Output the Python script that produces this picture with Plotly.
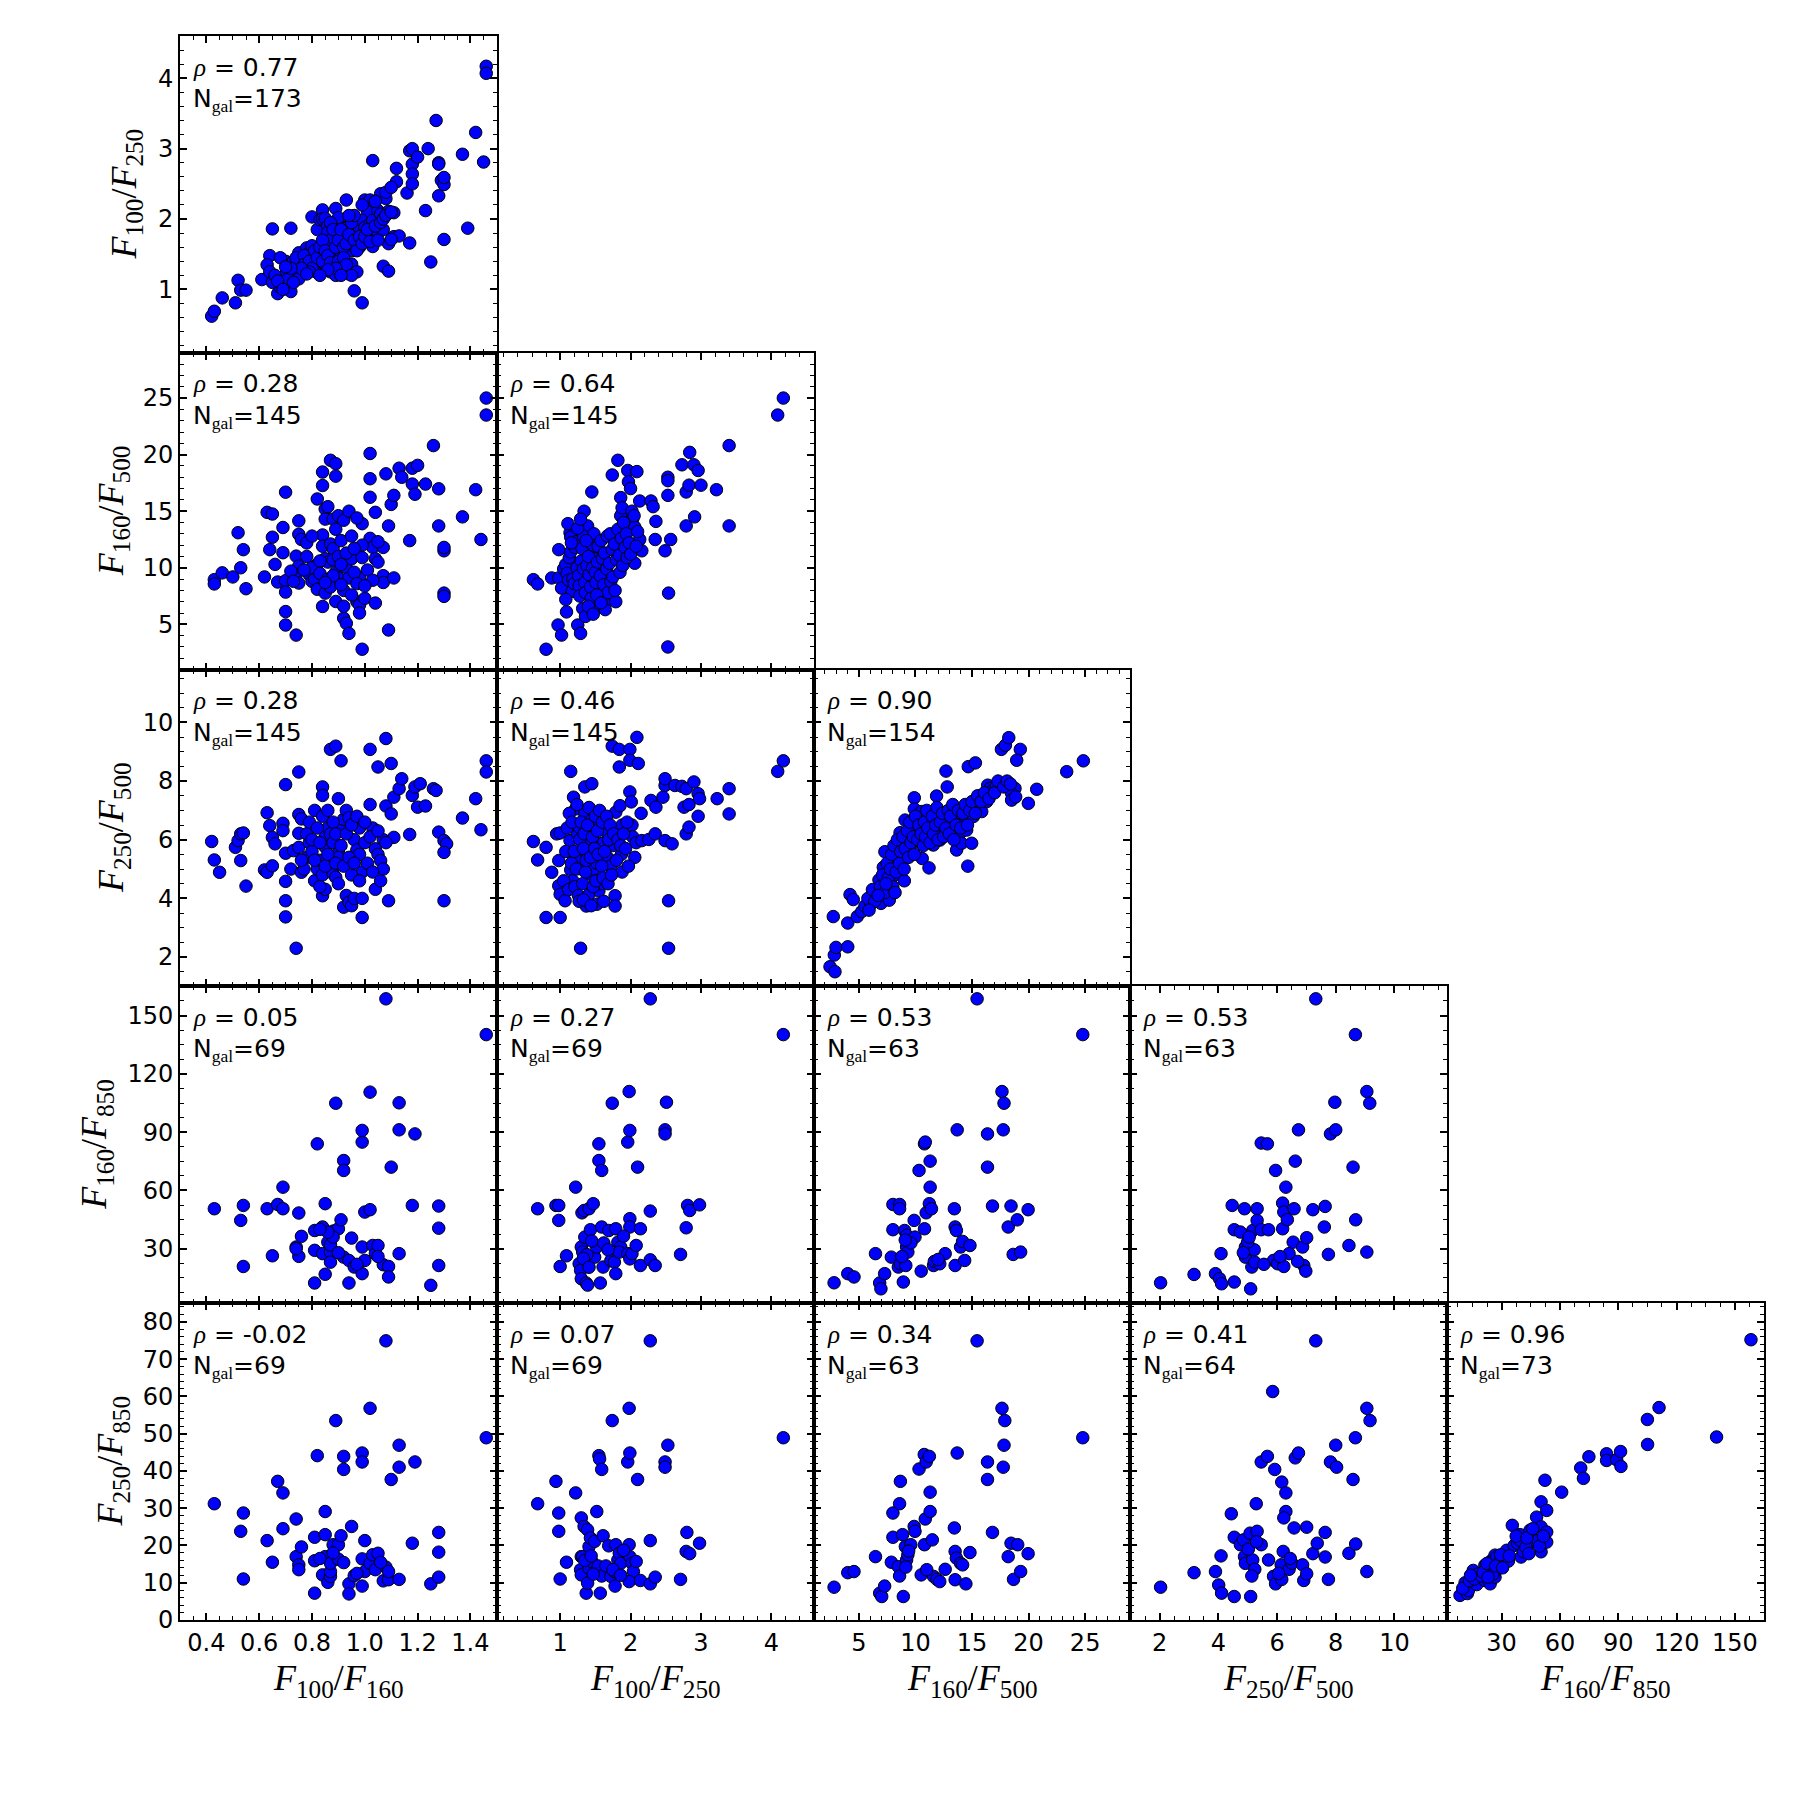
import plotly.graph_objects as go

# ---------------- data ----------------
var_labels = ["F100/F160", "F100/F250", "F160/F500", "F250/F500", "F160/F850", "F250/F850"]
var_sub = [("100", "160"), ("100", "250"), ("160", "500"), ("250", "500"), ("160", "850"), ("250", "850")]

rho_vals = {(1, 1): 0.77, (2, 1): 0.28, (2, 2): 0.64, (3, 1): 0.28, (3, 2): 0.46, (3, 3): 0.90,
            (4, 1): 0.05, (4, 2): 0.27, (4, 3): 0.53, (4, 4): 0.53,
            (5, 1): -0.02, (5, 2): 0.07, (5, 3): 0.34, (5, 4): 0.41, (5, 5): 0.96}
ngal_vals = {(1, 1): 173, (2, 1): 145, (2, 2): 145, (3, 1): 145, (3, 2): 145, (3, 3): 154,
             (4, 1): 69, (4, 2): 69, (4, 3): 63, (4, 4): 63,
             (5, 1): 69, (5, 2): 69, (5, 3): 63, (5, 4): 64, (5, 5): 73}

# F100/F250 vs F100/F160
p11 = [(0.42,0.62),(0.43,0.69),(0.46,0.88),(0.51,0.81),(0.52,1.13),(0.53,0.99),(0.55,0.99),(0.61,1.14),
(0.64,1.48),(0.65,1.86),(0.63,1.35),(0.64,1.25),(0.65,1.10),(0.67,0.94),(0.68,1.03),(0.69,1.05),
(0.70,1.40),(0.70,1.22),(0.72,0.97),(0.72,1.87),(0.73,1.40),(0.74,1.25),(0.75,1.15),(0.75,1.52),
(0.76,1.38),(0.78,1.59),(0.79,1.52),(0.80,2.03),(0.82,1.85),(0.83,1.99),(0.81,1.29),(0.82,1.24),
(0.83,1.31),(0.84,2.13),(0.84,2.00),(0.85,2.01),(0.86,1.90),(0.86,1.81),(0.85,1.35),(0.87,1.25),
(0.88,1.42),(0.88,1.54),(0.89,1.20),(0.87,1.63),(0.88,1.73),(0.89,2.15),(0.90,1.95),(0.90,2.02),
(0.91,1.51),(0.92,1.30),(0.93,2.27),(0.93,1.87),(0.94,1.22),(0.95,1.36),(0.95,1.55),(0.96,0.98),
(0.99,0.81),(0.97,1.80),(0.98,1.88),(0.98,1.60),(1.00,2.27),(1.01,2.11),(1.02,2.27),(0.99,1.98),
(1.00,1.88),(1.02,1.93),(1.03,1.98),(1.03,2.83),(1.03,1.61),(1.04,1.75),(1.05,2.12),(1.05,1.80),
(1.06,2.07),(1.07,1.85),(1.07,1.33),(1.09,1.26),(1.06,2.36),(1.08,2.29),(1.08,2.38),(1.09,2.11),
(1.11,2.09),(1.11,1.75),(1.09,1.65),(1.12,2.72),(1.12,2.53),(1.10,2.45),(1.13,1.76),(1.10,1.71),
(1.16,2.37),(1.17,1.66),(1.17,2.97),(1.18,3.00),(1.18,2.78),(1.18,2.64),(1.18,2.50),(1.20,2.88),
(1.23,2.12),(1.24,3.00),(1.25,1.39),(1.27,3.40),(1.28,2.80),(1.28,2.78),(1.28,2.33),(1.29,2.55),
(1.30,2.49),(1.30,2.59),(1.30,1.71),(1.37,2.92),(1.39,1.87),(1.42,3.23),(1.45,2.81),(1.46,4.17),
(1.46,4.07),
(0.66,1.20),(0.68,1.45),(0.71,1.15),(0.74,1.45),(0.77,1.48),(0.77,1.35),(0.79,1.40),(0.80,1.30),
(0.80,1.62),(0.81,1.55),(0.82,1.45),(0.83,1.60),(0.84,1.40),(0.84,1.70),(0.85,1.55),(0.86,1.48),
(0.87,1.38),(0.87,1.95),(0.88,1.85),(0.89,1.60),(0.90,1.40),(0.90,1.70),(0.91,1.85),(0.92,1.60),
(0.92,1.45),(0.93,1.65),(0.94,1.78),(0.95,1.95),(0.96,1.70),(0.96,2.05),(0.97,1.55),(0.98,1.75),
(0.99,1.65),(1.00,1.75),(1.01,1.85),(1.02,1.68),(1.04,1.90),(1.05,1.70),(1.06,1.95),(1.07,2.00),
(0.93,1.35),(0.89,1.30),(0.86,1.28),(0.79,1.25),(0.76,1.30),(0.72,1.30),(0.70,1.32),(0.67,1.12),
(0.69,1.00),(0.73,1.10),(0.97,1.25),(0.95,1.20),(0.91,1.20),(0.83,1.20),(0.78,1.22),(1.08,2.05),
(1.10,2.10),(1.04,2.25),(0.99,2.20),(0.94,2.05)]

# F160/F500 vs F100/F160
p21 = [(0.43,8.95),(0.43,8.57),(0.46,9.55),(0.50,9.19),(0.52,13.1),(0.53,10.0),(0.54,11.6),(0.55,8.15),
(0.62,9.19),(0.63,14.9),(0.65,14.75),(0.64,11.6),(0.65,12.7),(0.66,10.3),(0.67,8.74),(0.69,13.56),
(0.69,11.33),(0.70,16.68),(0.70,8.86),(0.70,7.85),(0.70,6.13),(0.70,4.94),(0.74,4.05),(0.75,14.15),
(0.75,12.96),(0.76,12.5),(0.74,11.03),(0.75,10.14),(0.74,9.4),(0.75,8.65),(0.72,9.7),(0.73,8.8),
(0.78,11.0),(0.79,9.4),(0.80,8.8),(0.82,10.3),(0.81,9.0),(0.82,8.1),(0.82,16.08),(0.84,18.46),
(0.84,17.27),(0.85,15.19),(0.85,14.3),(0.84,12.9),(0.84,11.9),(0.85,10.8),(0.86,10.5),(0.84,6.58),
(0.85,7.76),(0.87,19.5),(0.89,19.2),(0.89,18.1),(0.87,12.1),(0.88,11.7),(0.88,14.3),(0.89,13.4),
(0.88,10.7),(0.89,9.6),(0.90,9.1),(0.89,7.02),(0.92,8.0),(0.90,14.6),(0.92,14.2),(0.91,12.4),
(0.92,5.54),(0.93,10.0),(0.94,9.1),(0.95,10.8),(0.93,5.09),(0.94,4.2),(0.97,7.0),(0.98,6.7),
(0.98,6.0),(0.99,2.8),(0.98,9.1),(0.99,10.9),(0.99,13.9),(1.00,7.3),(1.02,20.1),(1.02,17.87),
(1.02,16.23),(1.02,12.6),(1.03,11.8),(1.04,6.88),(1.04,14.9),(1.04,10.8),(1.05,10.5),(1.07,9.3),
(1.07,8.7),(1.07,11.8),(1.08,18.3),(1.09,4.5),(1.09,13.7),(1.10,15.6),(1.11,16.4),(1.11,9.1),
(1.13,18.8),(1.14,18.0),(1.17,12.4),(1.18,18.8),(1.18,17.4),(1.19,16.5),(1.20,19.05),(1.23,17.4),
(1.26,20.8),(1.28,16.98),(1.28,13.7),(1.30,11.5),(1.30,11.8),(1.30,7.76),(1.30,7.47),(1.37,14.5),
(1.42,16.9),(1.44,12.5),(1.46,25.0),(1.46,23.5),
(0.78,12.2),(0.80,10.0),(0.83,9.5),(0.86,9.0),(0.87,8.3),(0.90,11.0),(0.91,10.3),(0.93,11.3),
(0.95,12.8),(0.96,9.6),(0.97,8.6),(0.99,12.0),(1.01,9.8),(1.03,8.9),(0.92,6.6),(0.95,7.6),
(0.80,12.8),(0.77,9.8),(0.86,15.4),(0.94,15.0),(0.97,14.4),(0.83,10.6),(0.88,9.3),(0.91,8.5),
(0.85,8.7),(0.96,11.7),(1.00,8.4),(1.05,12.3)]

# F160/F500 vs F100/F250
p22 = [(0.62,8.95),(0.68,8.57),(0.80,2.8),(0.88,9.1),(0.98,11.6),(0.98,9.1),(1.02,8.2),(0.97,4.94),
(1.02,4.05),(1.09,6.1),(1.14,13.1),(1.15,12.7),(1.17,7.9),(1.19,10.4),(1.22,9.7),(1.25,4.94),
(1.29,4.2),(1.32,6.4),(1.36,5.7),(1.34,15.0),(1.39,13.7),(1.45,16.7),(1.42,12.1),(1.45,11.3),
(1.49,10.8),(1.52,9.1),(1.55,8.2),(1.60,7.2),(1.65,7.0),(1.74,18.2),(1.79,7.0),(1.82,19.5),
(1.86,16.2),(1.86,14.6),(1.88,15.3),(1.96,18.6),(1.97,17.6),(2.09,18.5),(2.00,17.0),(2.03,14.3),
(2.06,13.6),(2.13,15.9),(2.13,12.5),(2.16,11.5),(2.06,10.4),(2.29,15.9),(2.32,15.4),(2.36,14.1),
(2.35,12.5),(2.49,11.5),(2.53,16.4),(2.53,18.0),(2.53,17.7),(2.54,7.76),(2.53,3.0),(2.57,12.5),
(2.73,19.1),(2.79,16.7),(2.83,17.3),(2.84,20.2),(2.90,19.1),(2.96,18.6),(3.0,17.3),(2.79,13.7),
(2.91,14.5),(3.22,16.9),(3.40,20.8),(3.40,13.7),(4.09,23.5),(4.17,25.0),
(1.05,9.9),(1.08,10.3),(1.10,9.5),(1.12,8.9),(1.13,10.9),(1.15,11.4),(1.18,9.0),(1.20,8.6),
(1.21,11.8),(1.23,12.3),(1.24,10.0),(1.26,9.3),(1.27,8.4),(1.28,7.5),(1.30,10.6),(1.31,11.7),
(1.33,12.8),(1.33,9.9),(1.35,8.7),(1.36,7.8),(1.38,10.2),(1.40,11.0),(1.41,9.4),(1.43,8.3),
(1.44,7.3),(1.46,10.0),(1.47,12.0),(1.48,13.0),(1.50,9.6),(1.51,8.7),(1.53,10.5),(1.54,11.9),
(1.56,6.6),(1.57,9.3),(1.58,12.4),(1.60,10.8),(1.62,8.5),(1.63,11.3),(1.64,6.3),(1.66,9.9),
(1.67,12.8),(1.68,7.8),(1.70,10.4),(1.71,13.0),(1.72,8.8),(1.74,11.6),(1.75,9.2),(1.77,12.1),
(1.78,8.0),(1.80,10.7),(1.82,13.4),(1.84,11.1),(1.85,9.6),(1.87,12.6),(1.89,10.2),(1.90,14.0),
(1.92,11.8),(1.94,13.0),(1.95,10.9),(1.98,12.2),(2.00,11.2),(2.02,15.0),(2.05,14.6),(2.08,11.9),
(2.10,13.2),(1.11,13.9),(1.16,12.2),(1.25,13.5),(1.29,14.3),(1.37,12.4),(1.40,6.6),(1.47,5.9),
(1.52,7.6),(1.58,6.9),(1.08,7.2)]

# F250/F500 vs F100/F160
p31 = [(0.42,5.94),(0.43,5.31),(0.45,4.89),(0.51,5.74),(0.52,5.97),(0.53,6.2),(0.54,6.23),(0.53,5.29),
(0.55,4.42),(0.62,4.97),(0.63,4.89),(0.65,5.11),(0.63,6.92),(0.64,6.48),(0.65,6.08),(0.66,5.86),
(0.69,6.56),(0.69,6.31),(0.70,7.88),(0.70,5.54),(0.70,4.58),(0.70,3.92),(0.70,3.37),(0.72,5.0),
(0.73,5.63),(0.74,2.3),(0.75,6.86),(0.75,8.31),(0.76,6.71),(0.75,6.22),(0.75,5.74),(0.76,4.89),
(0.77,5.0),(0.78,5.4),(0.79,5.9),(0.81,4.6),(0.81,7.0),(0.82,5.0),(0.83,5.3),(0.84,4.8),
(0.84,7.8),(0.84,7.51),(0.84,4.09),(0.85,4.31),(0.85,6.1),(0.85,5.75),(0.86,6.4),(0.87,9.08),
(0.89,9.19),(0.91,8.69),(0.90,7.4),(0.87,5.29),(0.88,4.84),(0.89,4.72),(0.90,5.57),(0.90,5.4),
(0.91,6.5),(0.90,4.5),(0.92,3.7),(0.93,4.1),(0.94,3.87),(0.95,3.75),(0.96,4.0),(0.99,4.0),
(0.99,3.35),(0.92,6.7),(0.93,7.0),(0.94,6.75),(0.96,6.0),(0.97,5.65),(0.98,5.5),(0.98,6.4),
(0.99,4.9),(1.02,9.08),(1.05,8.48),(1.02,7.2),(1.03,6.4),(1.04,5.69),(1.04,4.31),(1.05,5.5),
(1.06,5.29),(1.07,5.0),(1.07,6.0),(1.08,7.15),(1.08,9.45),(1.09,3.92),(1.10,8.6),(1.10,6.88),
(1.11,6.08),(1.11,7.45),(1.13,7.74),(1.14,8.08),(1.17,6.18),(1.18,7.51),(1.19,7.8),(1.20,7.11),
(1.21,7.91),(1.23,7.15),(1.26,7.74),(1.27,7.68),(1.28,6.26),(1.30,5.97),(1.31,5.86),(1.30,5.57),
(1.30,3.92),(1.37,6.74),(1.42,7.4),(1.44,6.34),(1.46,8.69),(1.46,8.31),
(0.76,5.3),(0.78,6.2),(0.79,6.6),(0.80,5.6),(0.80,6.0),(0.81,5.3),(0.82,6.4),(0.83,5.9),
(0.84,6.8),(0.85,5.1),(0.86,5.5),(0.86,7.0),(0.87,6.2),(0.88,5.9),(0.88,6.6),(0.89,5.2),
(0.89,6.2),(0.91,5.8),(0.92,5.1),(0.93,6.2),(0.94,5.4),(0.95,6.5),(0.95,4.8),(0.96,5.2),
(0.97,6.8),(0.98,4.6),(1.00,5.9),(1.00,6.6),(1.01,5.2),(1.02,6.1),(1.03,4.9),(1.05,6.3),
(1.06,4.6),(1.08,5.9),(0.83,4.4)]

# F250/F500 vs F100/F250
p32 = [(0.62,5.94),(0.68,5.31),(0.80,3.35),(0.80,5.74),(0.88,4.89),(0.95,6.2),(1.00,6.23),(0.98,5.29),
(0.98,4.43),(1.00,4.14),(1.00,3.35),(1.07,3.92),(1.14,5.97),(1.15,5.57),(1.15,8.33),(1.15,4.97),
(1.18,4.6),(1.19,7.45),(1.22,7.05),(1.22,6.48),(1.25,6.2),(1.27,6.43),(1.29,2.3),(1.29,5.29),
(1.31,5.0),(1.35,7.8),(1.45,7.91),(1.35,6.88),(1.38,5.5),(1.42,5.97),(1.44,6.66),(1.37,3.74),
(1.45,4.8),(1.48,5.0),(1.52,5.2),(1.52,3.8),(1.55,4.25),(1.57,4.5),(1.58,5.86),(1.62,5.9),
(1.65,6.3),(1.67,5.4),(1.72,5.1),(1.75,5.8),(1.74,9.19),(1.78,4.09),(1.78,3.74),(1.79,6.94),
(1.84,9.08),(1.84,8.48),(1.85,7.16),(1.88,6.5),(1.88,4.9),(1.87,5.5),(1.99,9.08),(1.99,8.71),
(2.09,9.49),(2.11,8.6),(2.02,6.5),(2.03,6.1),(1.99,7.63),(2.01,7.29),(2.06,5.4),(2.08,5.9),
(2.15,6.9),(2.16,5.97),(2.29,7.34),(2.26,6.01),(2.36,7.11),(2.35,6.2),(2.46,7.45),(2.49,7.85),
(2.49,8.08),(2.49,5.97),(2.59,5.86),(2.54,3.92),(2.54,2.3),(2.63,7.85),(2.73,7.82),(2.79,7.74),
(2.76,7.11),(2.83,7.2),(2.79,6.2),(2.83,6.43),(2.90,7.97),(2.96,7.57),(2.98,7.4),(2.96,6.8),
(3.23,7.4),(3.40,7.74),(3.40,6.88),(4.09,8.33),(4.17,8.69),
(1.05,4.6),(1.08,5.6),(1.10,6.4),(1.12,4.3),(1.13,6.9),(1.16,5.2),(1.17,6.6),(1.20,5.6),
(1.21,4.4),(1.23,5.0),(1.24,7.2),(1.26,4.1),(1.28,6.0),(1.30,6.6),(1.32,4.5),(1.33,5.7),
(1.34,6.2),(1.36,4.9),(1.37,5.3),(1.39,6.5),(1.40,4.1),(1.41,7.1),(1.43,5.4),(1.46,6.1),
(1.47,4.4),(1.49,5.7),(1.50,6.8),(1.51,4.6),(1.53,6.3),(1.54,5.5),(1.56,7.0),(1.59,5.1),
(1.60,6.6),(1.61,4.7),(1.63,5.6),(1.66,6.8),(1.68,4.5),(1.69,6.0),(1.71,6.5),(1.73,4.8),
(1.76,6.2),(1.80,5.3),(1.82,6.0),(1.86,5.8),(1.90,6.2),(1.93,5.7),(1.95,6.6),(1.97,5.1),
(1.27,3.9),(1.33,3.95),(1.44,3.75),(1.62,3.9)]

# F250/F500 vs F160/F500
p33 = [(2.45,1.67),(2.89,1.5),(2.83,2.07),(2.98,2.33),(2.74,3.38),(4.02,2.35),(4.02,3.16),(4.22,4.13),
(4.51,3.96),(4.86,3.38),(5.25,3.55),(5.54,3.74),(6.07,3.81),(6.57,4.23),(6.78,4.63),(6.96,3.83),
(7.3,5.59),(7.16,5.06),(7.69,3.94),(7.75,4.6),(8.05,4.77),(8.2,5.28),(8.5,5.56),(8.64,6.24),
(8.78,5.85),(9.02,5.34),(8.73,4.99),(9.02,4.6),(9.08,6.67),(9.23,5.99),(9.52,5.77),(9.67,6.33),
(9.9,7.43),(9.9,7.05),(10.55,6.96),(10.1,6.4),(10.4,5.92),(10.6,5.36),(11.3,6.55),(11.4,6.27),
(11.58,5.82),(11.2,5.04),(11.87,7.49),(12.17,5.99),(12.32,6.27),(12.61,6.9),(12.7,8.34),(12.81,7.8),
(13.2,6.67),(13.35,6.39),(13.5,6.9),(13.64,5.65),(13.79,5.99),(13.94,6.22),(14.08,5.88),(14.38,6.67),
(14.53,6.33),(14.63,5.1),(14.67,8.49),(14.97,5.88),(15.12,6.79),(15.56,7.24),(15.86,6.96),(16.3,7.3),
(15.3,8.62),(16.39,7.86),(16.6,7.75),(16.85,7.69),(17.15,7.8),(17.56,7.92),(17.6,9.08),(17.95,9.22),
(18.25,9.48),(19.27,9.08),(18.8,7.75),(18.95,8.71),(18.5,7.58),(18.5,7.35),(18.86,7.46),(19.98,7.24),
(20.72,7.72),(23.37,8.32),(24.84,8.69),
(5.8,4.0),(6.2,4.3),(6.4,3.9),(6.9,4.4),(7.1,4.8),(7.3,4.2),(7.5,5.2),(7.6,4.7),(7.8,5.0),(7.9,5.5),
(8.0,4.4),(8.1,5.8),(8.3,4.9),(8.4,6.0),(8.6,5.2),(8.7,5.6),(8.9,6.1),(9.0,5.0),(9.1,5.7),(9.3,6.3),
(9.4,5.4),(9.5,6.6),(9.6,5.9),(9.8,6.1),(9.9,5.5),(10.0,6.8),(10.2,6.0),(10.3,6.5),(10.5,6.2),
(10.7,5.8),(10.8,6.6),(10.9,6.1),(11.0,7.0),(11.1,6.4),(11.3,5.9),(11.5,6.8),(11.6,6.2),(11.8,6.5),
(11.9,7.1),(12.0,6.0),(12.2,6.6),(12.4,6.9),(12.5,6.1),(12.7,6.4),(12.9,7.0),(13.0,6.2),(13.1,6.8),
(13.3,7.2),(13.4,6.0),(13.6,6.5),(13.8,7.0),(14.0,6.4),(14.2,6.9),(14.4,7.2),(14.6,6.5),(14.8,7.0),
(15.0,7.3),(15.3,6.9),(15.5,7.5),(15.8,7.3),(16.1,7.6),(16.5,7.4),(17.0,7.6),(17.3,8.0),(17.8,7.8),
(18.1,8.0),(18.4,7.9),(8.2,4.2),(7.4,4.5),(6.7,4.1),(5.9,3.6)]

# F160/F850 vs F100/F160
p41 = [(0.43,50.6),(0.53,44.6),(0.54,20.9),(0.54,52.3),(0.63,50.6),(0.65,26.4),(0.67,52.8),(0.69,61.7),
(0.69,50.6),(0.74,30.9),(0.75,26.1),(0.75,48.4),(0.76,36.4),(0.81,12.4),(0.81,39.4),(0.81,29.2),
(0.82,84.0),(0.84,41.2),(0.84,27.5),(0.85,16.9),(0.85,53.2),(0.86,33.4),(0.87,28.3),(0.87,23.1),
(0.88,39.1),(0.90,40.3),(0.91,44.9),(0.89,104.9),(0.92,75.4),(0.92,70.3),(0.92,25.7),(0.94,24.0),
(0.94,12.4),(0.95,35.5),(0.96,20.6),(0.99,17.2),(0.99,84.9),(0.99,90.9),(0.99,30.9),(1.00,24.0),
(1.00,48.9),(1.02,50.1),(1.02,110.6),(1.03,31.7),(1.04,27.5),(1.05,31.7),(1.07,21.8),(1.09,20.9),
(1.08,158.6),(1.09,15.5),(1.10,72.0),(1.13,27.5),(1.13,105.1),(1.13,91.2),(1.18,52.3),(1.19,89.1),
(1.25,11.2),(1.28,52.0),(1.28,40.6),(1.28,21.4),(1.46,140.2),
(0.87,32.0),(0.88,36.0),(0.86,38.5),(0.74,30.0),(0.90,28.0),(0.97,22.0),(1.05,26.0),(0.83,40.0)]

# F160/F850 vs F100/F250
p42 = [(0.68,50.6),(0.94,52.3),(0.98,52.3),(0.98,44.6),(1.00,20.9),(1.09,26.4),(1.22,61.7),(1.27,22.3),
(1.29,18.9),(1.30,14.6),(1.30,30.9),(1.32,28.3),(1.31,48.5),(1.34,49.7),(1.35,36.0),(1.37,12.4),
(1.39,11.3),(1.41,50.6),(1.47,53.2),(1.43,39.8),(1.49,25.7),(1.52,30.9),(1.55,84.0),(1.55,75.4),
(1.59,70.3),(1.59,41.2),(1.61,20.6),(1.57,12.4),(1.69,39.4),(1.72,24.0),(1.77,23.1),(1.79,17.2),
(1.74,104.9),(1.79,40.3),(1.82,33.4),(1.86,30.9),(1.84,28.3),(1.96,84.9),(1.98,110.9),(1.99,90.9),
(1.96,27.5),(1.99,24.8),(2.02,27.5),(1.99,45.5),(1.99,41.2),(2.08,31.7),(2.10,72.0),(2.14,21.4),
(2.14,40.3),(2.28,158.6),(2.28,49.4),(2.28,24.3),(2.35,21.4),(2.51,105.4),(2.49,91.2),(2.49,89.1),
(2.71,27.1),(2.79,40.8),(2.81,52.3),(2.84,49.7),(2.98,52.6),(4.17,140.2),
(1.45,34.0),(1.38,27.0),(1.62,33.0),(1.33,25.0),(1.68,29.5),(1.41,20.5),(1.90,36.5)]

# F160/F850 vs F160/F500
p43 = [(2.81,12.5),(4.02,17.2),(4.57,15.5),(6.47,27.5),(6.84,12.4),(6.95,9.4),(7.28,17.2),(7.87,25.7),
(8.01,52.8),(8.60,52.8),(8.60,50.6),(8.01,39.8),(8.49,20.6),(8.67,22.3),(8.93,12.9),(9.04,39.4),
(9.22,36.9),(9.22,30.9),(9.33,28.3),(9.15,21.4),(9.89,44.6),(9.96,36.0),(10.32,70.3),(10.51,18.5),
(10.8,84.0),(10.87,84.9),(10.8,40.3),(10.95,48.5),(11.23,53.2),(11.42,50.6),(11.3,75.1),(11.3,61.7),
(11.6,21.4),(11.67,23.5),(12.15,22.3),(12.63,27.5),(13.44,50.6),(13.51,41.2),(13.62,39.4),(13.51,21.4),
(13.69,91.2),(13.99,30.9),(14.17,33.8),(14.35,24.0),(14.82,31.7),(15.45,158.6),(16.37,89.1),(16.37,72.0),
(16.81,52.0),(17.65,110.9),(17.83,104.9),(17.76,91.2),(18.2,41.2),(18.45,52.0),(18.64,27.1),(19.3,28.3),
(19.0,44.9),(19.96,50.1),(24.79,140.2),(9.6,33.0),(12.0,24.5),(9.1,34.5),(8.8,26.0)]

# F160/F850 vs F250/F500
p44 = [(2.03,12.5),(3.17,16.8),(3.9,17.2),(4.04,14.6),(4.11,12.0),(4.09,27.5),(4.47,52.3),(4.54,12.9),
(4.54,39.8),(4.75,38.6),(4.89,50.6),(5.32,50.6),(4.92,30.9),(4.92,25.7),(5.10,9.4),(5.14,20.6),
(5.24,23.1),(5.22,29.5),(5.17,39.4),(5.32,44.6),(5.46,39.8),(5.71,39.8),(5.46,84.4),(5.67,84.0),
(5.88,24.0),(6.02,22.3),(6.23,20.9),(5.95,70.3),(6.19,53.5),(6.23,48.9),(6.3,61.7),(6.19,40.3),
(6.41,27.5),(6.55,33.4),(6.58,50.6),(6.62,75.1),(6.73,91.2),(6.87,30.9),(6.91,21.4),(6.98,18.5),
(7.01,35.7),(7.22,50.1),(7.32,158.6),(7.64,51.8),(7.61,41.2),(7.75,27.1),(7.82,89.1),(8.0,91.2),
(7.97,105.4),(8.45,31.7),(8.59,72.0),(8.68,44.9),(8.67,140.2),(9.06,110.9),(9.16,104.9),(9.06,28.3),
(5.0,33.5),(5.05,36.0),(6.10,26.0),(4.85,28.0),(6.35,45.0),(5.55,22.0),(6.70,23.5)]

# F250/F850 vs F100/F160
p51 = [(0.43,31.2),(0.53,23.8),(0.54,28.7),(0.54,11.0),(0.63,21.3),(0.65,15.5),(0.67,37.2),(0.69,34.1),
(0.69,24.5),(0.74,27.1),(0.74,17.0),(0.75,14.8),(0.75,13.5),(0.76,19.6),(0.81,7.2),(0.81,22.2),
(0.81,15.9),(0.82,44.1),(0.84,12.1),(0.85,22.9),(0.85,17.0),(0.85,29.1),(0.86,10.1),(0.87,11.7),
(0.87,13.0),(0.87,15.2),(0.88,20.2),(0.90,20.2),(0.91,22.6),(0.89,53.5),(0.90,16.3),(0.92,15.4),
(0.92,43.9),(0.92,40.4),(0.94,9.7),(0.94,7.0),(0.95,25.1),(0.96,11.9),(0.99,9.1),(0.99,44.8),
(0.99,42.4),(0.99,16.4),(1.00,13.0),(1.00,21.3),(1.02,56.8),(1.02,15.2),(1.03,17.5),(1.04,13.5),
(1.05,17.9),(1.07,10.5),(1.09,10.8),(1.08,74.9),(1.08,14.2),(1.09,13.0),(1.10,37.7),(1.13,10.9),
(1.13,46.9),(1.13,41.0),(1.18,20.6),(1.19,42.4),(1.25,9.7),(1.28,23.5),(1.28,18.2),(1.28,11.5),
(1.46,48.9),(0.88,18.0),(0.97,12.5),(0.83,16.5),(1.06,15.5)]

# F250/F850 vs F100/F250
p52 = [(0.68,31.2),(0.94,37.2),(0.98,28.7),(0.98,23.8),(1.00,11.0),(1.09,15.5),(1.22,34.1),(1.30,27.4),
(1.34,25.1),(1.39,24.2),(1.30,17.0),(1.32,17.0),(1.29,13.5),(1.30,12.1),(1.37,7.2),(1.39,9.9),
(1.41,13.9),(1.45,15.7),(1.41,19.7),(1.43,22.0),(1.49,21.1),(1.52,29.1),(1.54,14.5),(1.55,44.1),
(1.56,43.2),(1.59,40.4),(1.59,11.8),(1.57,7.2),(1.61,22.6),(1.69,19.9),(1.72,11.7),(1.77,13.0),
(1.74,53.5),(1.78,9.1),(1.79,20.2),(1.82,16.1),(1.84,17.9),(1.86,15.2),(1.96,42.4),(1.99,44.8),
(1.98,56.8),(1.98,20.2),(1.99,17.0),(2.02,15.2),(2.04,13.0),(1.98,10.3),(2.08,15.7),(2.10,37.7),
(2.14,10.6),(2.28,74.9),(2.28,21.3),(2.28,9.7),(2.35,11.5),(2.49,42.4),(2.49,41.0),(2.53,46.9),
(2.71,10.9),(2.80,23.5),(2.79,18.4),(2.84,17.8),(2.98,20.6),(4.17,48.9),
(1.35,16.0),(1.47,12.3),(1.65,14.5),(1.90,18.7),(1.75,13.5),(1.44,17.2),(1.86,12.0)]

# F250/F850 vs F160/F500
p53 = [(2.81,8.8),(4.02,12.7),(4.57,13.0),(6.47,17.0),(6.84,7.2),(7.02,6.3),(7.28,9.1),(7.87,15.5),
(8.01,28.7),(8.01,22.2),(8.6,31.2),(8.67,37.2),(8.49,14.3),(8.60,11.8),(8.93,6.3),(8.86,22.9),
(9.11,19.7),(9.22,16.1),(9.33,17.5),(9.15,14.2),(9.59,20.2),(9.89,25.1),(9.96,23.8),(10.32,40.5),
(10.51,12.1),(10.78,44.4),(10.95,42.4),(10.87,27.1),(10.8,20.2),(11.3,34.3),(11.23,43.9),(11.3,29.1),
(11.49,21.5),(11.6,11.7),(11.9,10.9),(12.15,10.3),(12.63,13.6),(13.44,24.7),(13.51,18.4),(13.62,16.6),
(13.51,10.8),(13.69,44.8),(13.99,15.2),(14.17,14.8),(14.46,9.7),(14.82,18.1),(15.45,74.9),(16.37,42.4),
(16.37,37.7),(16.81,23.5),(17.65,56.8),(17.9,53.5),(17.83,46.9),(17.76,41.0),(18.2,17.0),(18.45,20.6),
(18.67,10.9),(19.3,13.0),(19.04,20.2),(19.96,17.8),(24.79,48.9),(9.4,18.5),(11.0,13.5)]

# F250/F850 vs F250/F500
p54 = [(2.03,8.8),(3.17,12.7),(3.9,13.0),(4.01,9.4),(4.11,7.2),(4.09,17.2),(4.44,28.5),(4.54,6.3),
(4.54,22.2),(4.75,20.2),(4.86,21.5),(4.89,17.0),(4.92,15.2),(5.17,16.1),(5.24,13.6),(5.1,6.3),
(5.14,11.8),(5.29,31.2),(5.08,23.3),(5.32,23.8),(5.46,20.2),(5.46,42.4),(5.67,43.9),(5.71,16.1),
(5.85,61.3),(5.92,40.4),(5.88,11.7),(5.95,9.7),(6.16,10.9),(6.16,37.0),(6.21,18.4),(6.14,14.8),
(6.41,13.6),(6.51,15.2),(6.3,34.1),(6.3,29.1),(6.23,27.4),(6.58,24.7),(6.62,43.5),(6.73,44.8),
(6.87,14.8),(6.91,10.6),(7.01,12.4),(7.01,24.9),(7.22,17.8),(7.32,74.9),(7.37,20.6),(7.64,16.9),
(7.64,23.5),(7.75,10.9),(7.82,42.4),(8.0,46.9),(8.03,41.0),(8.45,17.9),(8.59,37.7),(8.68,20.4),
(8.67,48.9),(9.06,56.8),(9.17,53.5),(9.06,13.0),(5.02,19.0),(5.30,21.0),(6.05,12.5),(6.45,16.5)]

# F250/F850 vs F160/F850
p55 = [(8.6,6.6),(11.2,10.0),(12.4,7.1),(12.9,7.9),(15.4,13.3),(17.2,9.5),(18.0,12.4),(21.4,14.7),
(21.4,10.6),(23.2,13.3),(24.1,9.7),(24.9,16.0),(26.6,17.4),(27.5,16.9),(26.6,11.5),(28.3,13.8),
(29.2,15.6),(31.7,15.8),(32.6,18.7),(33.5,15.8),(35.5,25.4),(36.5,20.0),(38.3,20.5),(39.5,22.9),
(40.0,16.9),(41.2,18.3),(39.5,21.4),(44.6,24.1),(45.5,20.9),(47.2,21.4),(48.0,27.6),(48.9,21.4),
(50.3,31.7),(50.3,25.0),(50.3,18.3),(53.2,20.9),(53.2,23.6),(53.2,29.4),(52.3,37.5),(60.9,34.3),
(70.7,40.8),(72.1,38.0),(74.9,43.8),(84.0,44.6),(84.0,42.8),(89.2,43.0),(91.2,45.2),(91.4,41.2),
(105.0,53.8),(105.1,47.1),(111.0,57.0),(140.6,49.1),(158.3,75.2),
(10.0,8.5),(13.5,10.5),(16.0,11.0),(19.5,11.8),(20.5,12.8),(22.5,15.2),(25.5,12.3),(27.0,14.5),
(29.5,17.5),(30.5,14.0),(34.0,17.2),(37.5,22.5),(42.5,19.5),(43.0,22.0),(46.0,24.5),(49.5,19.8),
(51.5,22.5),(44.0,17.8),(14.0,12.0),(23.0,11.5)]

panel_data = {(1, 1): p11, (2, 1): p21, (2, 2): p22, (3, 1): p31, (3, 2): p32, (3, 3): p33,
              (4, 1): p41, (4, 2): p42, (4, 3): p43, (4, 4): p44,
              (5, 1): p51, (5, 2): p52, (5, 3): p53, (5, 4): p54, (5, 5): p55}

# ---------------- styling ----------------
W = H = 1800
ML, MR, MT, MB = 180, 36, 36, 180
PW = W - ML - MR
PH = H - MT - MB

axis_style = [
    dict(range=[0.3, 1.5], dtick=0.2, tick0=0, minor_dtick=0.05, tickformat=".1f"),
    dict(range=[0.1, 4.6], dtick=1, tick0=0, minor_dtick=0.2, tickformat="d"),
    dict(range=[1, 29], dtick=5, tick0=0, minor_dtick=1, tickformat="d"),
    dict(range=[1, 11.8], dtick=2, tick0=0, minor_dtick=0.5, tickformat="d"),
    dict(range=[2, 165], dtick=30, tick0=0, minor_dtick=7.5, tickformat="d"),
    dict(range=[0, 85], dtick=10, tick0=0, minor_dtick=2, tickformat="d"),
]

TICKFONT = dict(family="DejaVu Sans", size=24, color="black")
SERIF = "Liberation Serif"


def make_axis(vi, domain, anchor, show_labels):
    st = axis_style[vi]
    return dict(
        domain=domain, anchor=anchor, range=st["range"], autorange=False,
        tickmode="linear", dtick=st["dtick"], tick0=st["tick0"], tickformat=st["tickformat"],
        ticks="inside", ticklen=7, tickwidth=1.5, tickcolor="black",
        showline=True, linecolor="black", linewidth=2, mirror="allticks",
        showgrid=False, zeroline=False, showticklabels=show_labels,
        tickfont=TICKFONT,
        minor=dict(ticks="inside", ticklen=4, tickwidth=1.2, tickcolor="black",
                   dtick=st["minor_dtick"], tick0=0, showgrid=False),
    )


def title_html(vi):
    a, b = var_sub[vi]
    return f"<i>F</i><sub>{a}</sub>/<i>F</i><sub>{b}</sub>"


fig = go.Figure()
layout = dict(
    width=W, height=H, margin=dict(l=ML, r=MR, t=MT, b=MB),
    paper_bgcolor="white", plot_bgcolor="white", showlegend=False,
)
annotations = []

n = 0
for r in range(1, 6):
    for c in range(1, r + 1):
        n += 1
        sfx = "" if n == 1 else str(n)
        pts = panel_data[(r, c)]
        xs = [p[0] for p in pts]
        ys = [p[1] for p in pts]
        fig.add_trace(go.Scatter(
            x=xs, y=ys, mode="markers", xaxis="x" + sfx, yaxis="y" + sfx,
            marker=dict(size=12.5, color="#0000ff", line=dict(color="black", width=1)),
            hoverinfo="skip",
        ))
        xdom = [(c - 1) / 5, c / 5]
        ydom = [1 - r / 5, 1 - (r - 1) / 5]
        layout["xaxis" + sfx] = make_axis(c - 1, xdom, "y" + sfx, r == 5)
        layout["yaxis" + sfx] = make_axis(r, ydom, "x" + sfx, c == 1)

        rho = rho_vals[(r, c)]
        ng = ngal_vals[(r, c)]
        annotations.append(dict(
            xref=f"x{sfx} domain", yref=f"y{sfx} domain", x=11 / 316.8, y=1 - 31 / 316.8,
            xanchor="left", yanchor="middle", showarrow=False,
            text=f"<span style='font-family:{SERIF}'><i>ρ</i></span> = {rho:.2f}",
            font=dict(family="DejaVu Sans", size=25, color="black"),
        ))
        annotations.append(dict(
            xref=f"x{sfx} domain", yref=f"y{sfx} domain", x=11 / 316.8, y=1 - 64 / 316.8,
            xanchor="left", yanchor="middle", showarrow=False,
            text=f"N<sub><span style='font-family:{SERIF}'>gal</span></sub>={ng}",
            font=dict(family="DejaVu Sans", size=25, color="black"),
        ))

# x axis titles (bottom row)
for c in range(1, 6):
    cx = (c - 0.5) / 5
    annotations.append(dict(
        xref="paper", yref="paper", x=cx, y=-(1680 - (H - MB)) / PH,
        xanchor="center", yanchor="middle", showarrow=False,
        text=title_html(c - 1), font=dict(family=SERIF, size=36, color="black"),
    ))

# y axis titles (left column)
ytitle_px = [126, 113, 113, 97, 113]
for r in range(1, 6):
    cy = 1 - (r - 0.5) / 5
    annotations.append(dict(
        xref="paper", yref="paper", x=(ytitle_px[r - 1] - ML) / PW, y=cy,
        xanchor="center", yanchor="middle", showarrow=False, textangle=-90,
        text=title_html(r), font=dict(family=SERIF, size=36, color="black"),
    ))

layout["annotations"] = annotations
fig.update_layout(**layout)
fig.write_html("out.html")
